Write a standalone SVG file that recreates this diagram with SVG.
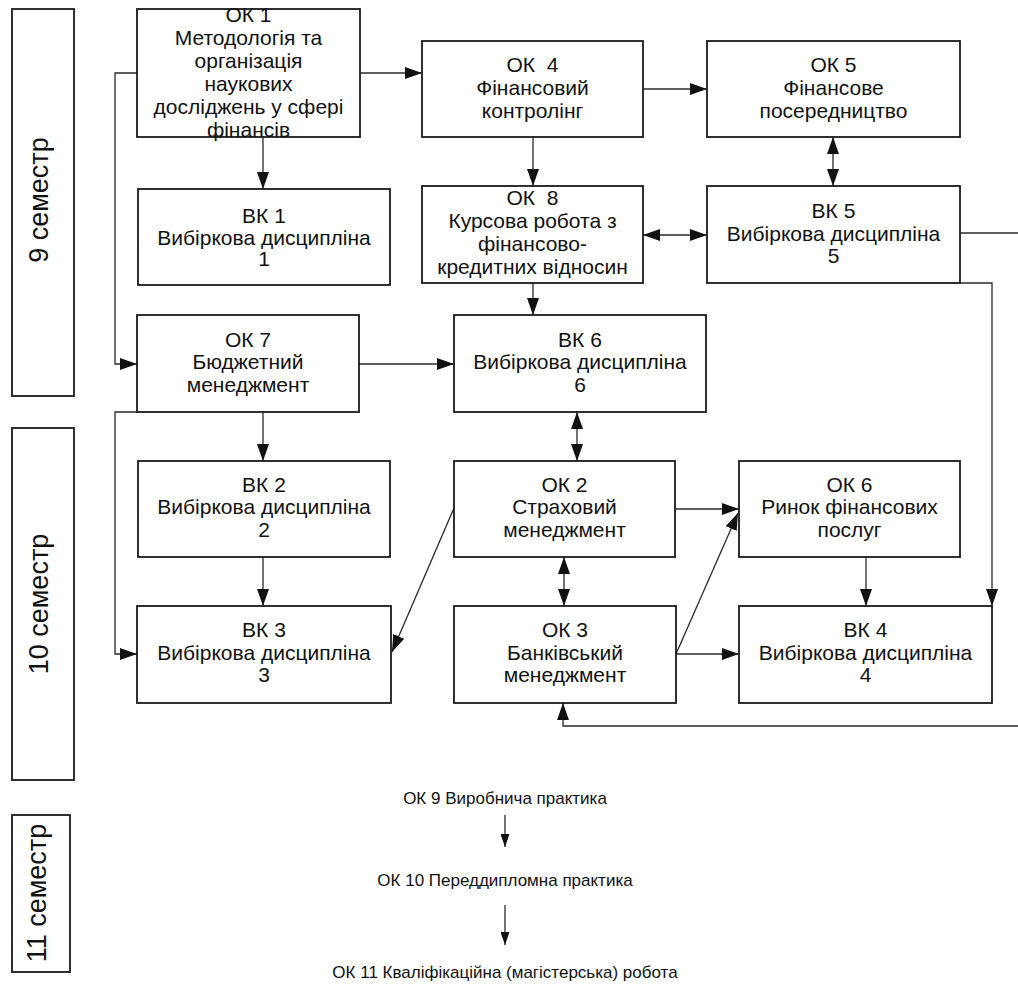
<svg xmlns="http://www.w3.org/2000/svg" width="1018" height="992" viewBox="0 0 1018 992">
<defs>
<style>
.box{fill:#fff;stroke:#1a1a1a;stroke-width:1.8}
.sem{fill:none;stroke:#1a1a1a;stroke-width:1.8}
.t{font-family:"Liberation Sans",Arial,sans-serif;font-size:21px;text-anchor:middle;fill:#111}
.st{font-family:"Liberation Sans",Arial,sans-serif;font-size:27px;text-anchor:middle;fill:#111}
.bt{font-family:"Liberation Sans",Arial,sans-serif;font-size:17px;text-anchor:middle;fill:#111}
.c{fill:none;stroke:#2a2a2a;stroke-width:1.3}
.a{marker-end:url(#arr)}
.d{marker-start:url(#arr);marker-end:url(#arr)}
.s{marker-end:url(#arrs)}
</style>
<marker id="arr" markerUnits="userSpaceOnUse" markerWidth="17" markerHeight="12" refX="17" refY="6" orient="auto-start-reverse">
<path d="M0,0 L17,6 L0,12 z" fill="#111"/>
</marker>
<marker id="arrs" markerUnits="userSpaceOnUse" markerWidth="13" markerHeight="9" refX="13" refY="4.5" orient="auto">
<path d="M0,0 L13,4.5 L0,9 z" fill="#111"/>
</marker>
</defs>
<rect width="1018" height="992" fill="#fff"/>

<g id="semesters">
<g id="sem9"><rect class="sem" x="12" y="9" width="62" height="387"/><text class="st" transform="translate(48,200) rotate(-90)">9 семестр</text></g>
<g id="sem10"><rect class="sem" x="12" y="428" width="62" height="352"/><text class="st" transform="translate(48,604) rotate(-90)">10 семестр</text></g>
<g id="sem11"><rect class="sem" x="12" y="815" width="58" height="157"/><text class="st" transform="translate(46,893) rotate(-90)">11 семестр</text></g>
</g>

<g id="connectors">
<line class="c a" x1="360" y1="73" x2="422" y2="73"/>
<line class="c a" x1="263" y1="137" x2="263" y2="189"/>
<polyline class="c a" points="137,73 115,73 115,364 137,364"/>
<line class="c a" x1="643" y1="89" x2="707" y2="89"/>
<line class="c a" x1="533" y1="137" x2="533" y2="186"/>
<line class="c d" x1="833" y1="137" x2="833" y2="186"/>
<line class="c d" x1="643" y1="235" x2="707" y2="235"/>
<line class="c" x1="960" y1="233" x2="1018" y2="233"/>
<polyline class="c a" points="960,283 992,283 992,606"/>
<line class="c a" x1="533" y1="283" x2="533" y2="315"/>
<line class="c a" x1="359" y1="364" x2="454" y2="364"/>
<polyline class="c a" points="137,412 115,412 115,654 137,654"/>
<line class="c a" x1="263" y1="412" x2="263" y2="461"/>
<line class="c d" x1="577" y1="412" x2="577" y2="461"/>
<line class="c a" x1="263" y1="557" x2="263" y2="606"/>
<line class="c a" x1="454" y1="508" x2="392" y2="652"/>
<line class="c a" x1="676" y1="509" x2="739" y2="509"/>
<line class="c d" x1="564" y1="557" x2="564" y2="606"/>
<line class="c a" x1="676" y1="654" x2="738" y2="513"/>
<line class="c a" x1="676" y1="654" x2="739" y2="654"/>
<line class="c a" x1="866" y1="557" x2="866" y2="606"/>
<polyline class="c a" points="1018,726 563,726 563,703"/>
<line class="c s" x1="505" y1="815" x2="505" y2="847"/>
<line class="c s" x1="505" y1="905" x2="505" y2="945"/>
</g>

<g id="ok1"><rect class="box" x="137" y="9" width="223" height="128"/>
<text class="t" x="248.5" y="22">ОК 1</text><text class="t" x="248.5" y="45">Методологія та</text><text class="t" x="248.5" y="68">організація</text><text class="t" x="248.5" y="91">наукових</text><text class="t" x="248.5" y="114">досліджень у сфері</text><text class="t" x="248.5" y="137">фінансів</text></g>

<g id="ok4"><rect class="box" x="422" y="41" width="221" height="96"/>
<text class="t" x="532.5" y="72" xml:space="preserve">ОК  4</text><text class="t" x="532.5" y="95">Фінансовий</text><text class="t" x="532.5" y="118">контролінг</text></g>

<g id="ok5"><rect class="box" x="707" y="41" width="253" height="96"/>
<text class="t" x="833.5" y="72">ОК 5</text><text class="t" x="833.5" y="95">Фінансове</text><text class="t" x="833.5" y="118">посередництво</text></g>

<g id="bk1"><rect class="box" x="138" y="189" width="252" height="96"/>
<text class="t" x="264" y="223">ВК 1</text><text class="t" x="264" y="245">Вибіркова дисципліна</text><text class="t" x="264" y="266">1</text></g>

<g id="ok8"><rect class="box" x="422" y="186" width="221" height="97"/>
<text class="t" x="532.5" y="205" xml:space="preserve">ОК  8</text><text class="t" x="532.5" y="228">Курсова робота з</text><text class="t" x="532.5" y="251">фінансово-</text><text class="t" x="532.5" y="274">кредитних відносин</text></g>

<g id="bk5"><rect class="box" x="707" y="186" width="253" height="97"/>
<text class="t" x="833.5" y="218">ВК 5</text><text class="t" x="833.5" y="241">Вибіркова дисципліна</text><text class="t" x="833.5" y="263">5</text></g>

<g id="ok7"><rect class="box" x="137" y="315" width="222" height="97"/>
<text class="t" x="248" y="347">ОК 7</text><text class="t" x="248" y="369">Бюджетний</text><text class="t" x="248" y="392">менеджмент</text></g>

<g id="bk6"><rect class="box" x="454" y="315" width="252" height="97"/>
<text class="t" x="580" y="347">ВК 6</text><text class="t" x="580" y="369">Вибіркова дисципліна</text><text class="t" x="580" y="392">6</text></g>

<g id="bk2"><rect class="box" x="138" y="461" width="252" height="96"/>
<text class="t" x="264" y="492">ВК 2</text><text class="t" x="264" y="514">Вибіркова дисципліна</text><text class="t" x="264" y="537">2</text></g>

<g id="ok2"><rect class="box" x="454" y="461" width="221" height="96"/>
<text class="t" x="564.5" y="492">ОК 2</text><text class="t" x="564.5" y="514">Страховий</text><text class="t" x="564.5" y="537">менеджмент</text></g>

<g id="ok6"><rect class="box" x="739" y="461" width="221" height="96"/>
<text class="t" x="849.5" y="492">ОК 6</text><text class="t" x="849.5" y="514">Ринок фінансових</text><text class="t" x="849.5" y="537">послуг</text></g>

<g id="bk3"><rect class="box" x="137" y="606" width="254" height="97"/>
<text class="t" x="264" y="637">ВК 3</text><text class="t" x="264" y="660">Вибіркова дисципліна</text><text class="t" x="264" y="682">3</text></g>

<g id="ok3"><rect class="box" x="454" y="606" width="222" height="97"/>
<text class="t" x="565" y="637">ОК 3</text><text class="t" x="565" y="660">Банківський</text><text class="t" x="565" y="682">менеджмент</text></g>

<g id="bk4"><rect class="box" x="739" y="606" width="253" height="97"/>
<text class="t" x="865.5" y="637">ВК 4</text><text class="t" x="865.5" y="660">Вибіркова дисципліна</text><text class="t" x="865.5" y="682">4</text></g>

<g id="ok9"><text class="bt" x="505" y="804">ОК 9 Виробнича практика</text></g>
<g id="ok10"><text class="bt" x="505" y="886">ОК 10 Переддипломна практика</text></g>
<g id="ok11"><text class="bt" x="505" y="978">ОК 11 Кваліфікаційна (магістерська) робота</text></g>
</svg>
